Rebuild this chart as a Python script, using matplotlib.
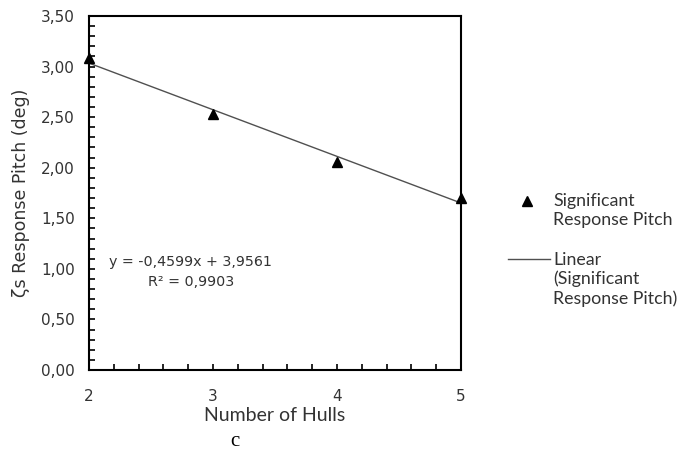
import numpy as np
import matplotlib
matplotlib.use("Agg")
from matplotlib import pyplot as plt
from matplotlib.lines import Line2D
from matplotlib.ticker import MultipleLocator, FuncFormatter

# data
hulls = [2, 3, 4, 5]
pitch = [3.08, 2.53, 2.06, 1.70]
eq_text = "y = -0,4599x + 3,9561\nR² = 0,9903"
lbl_pts = "Significant\nResponse Pitch"
lbl_fit = "Linear\n(Significant\nResponse Pitch)"

txt = '#333333'
plt.rcParams['font.family'] = ['DejaVu Sans']

fig = plt.figure(figsize=(6.81, 4.54), dpi=100)
ax = fig.add_axes([0.1307, 0.185, 0.5463, 0.7798])

# linear trendline
coef = np.polyfit(hulls, pitch, 1)
xf = np.array([hulls[0], hulls[-1]])
ax.plot(xf, np.polyval(coef, xf), color='#505050', lw=1.0, zorder=2)
ax.plot(hulls, pitch, ls='none', marker='^', color='black', markersize=7.5,
        clip_on=False, zorder=3)

ax.set_xlim(2, 5)
ax.set_ylim(0, 3.5)
ax.xaxis.set_major_locator(MultipleLocator(1))
ax.xaxis.set_minor_locator(MultipleLocator(0.2))
ax.yaxis.set_major_locator(MultipleLocator(0.5))
ax.yaxis.set_minor_locator(MultipleLocator(0.1))
ax.yaxis.set_major_formatter(FuncFormatter(lambda v, p: ('%.2f' % v).replace('.', ',')))
ax.tick_params(which='both', direction='in', length=4, width=1.2, labelsize=11,
               color='black', labelcolor=txt)
ax.tick_params(axis='x', pad=14)
ax.tick_params(axis='y', pad=10)
for s in ax.spines.values():
    s.set_linewidth(1.5)

ax.set_xlabel("Number of Hulls", fontsize=14, family='Lato', color=txt, labelpad=2)
ax.set_ylabel("ζs Response Pitch (deg)", fontsize=12.5, color=txt, labelpad=8)

ax.text(2.82, 0.973, eq_text, ha='center', va='center', fontsize=10.3, color=txt,
        linespacing=1.55)

fig.text(235 / 681, 1 - 442 / 454, "c", fontsize=15, family='Liberation Serif',
         ha='center', va='center')

# legend drawn Excel-style: key aligned with first text line
fig.add_artist(Line2D([527 / 681], [1 - 201 / 454], marker='^', color='black',
                      markersize=6.5, ls='none'))
fig.text(553 / 681, 1 - 193 / 454, lbl_pts, fontsize=12.75, family='Lato', color=txt,
         va='top', ha='left', linespacing=1.2)
fig.add_artist(Line2D([508 / 681, 550 / 681], [1 - 259 / 454] * 2, color='#505050', lw=1.0))
fig.text(553 / 681, 1 - 252 / 454, lbl_fit, fontsize=12.75, family='Lato', color=txt,
         va='top', ha='left', linespacing=1.2)

plt.savefig('out.png', dpi=100)
